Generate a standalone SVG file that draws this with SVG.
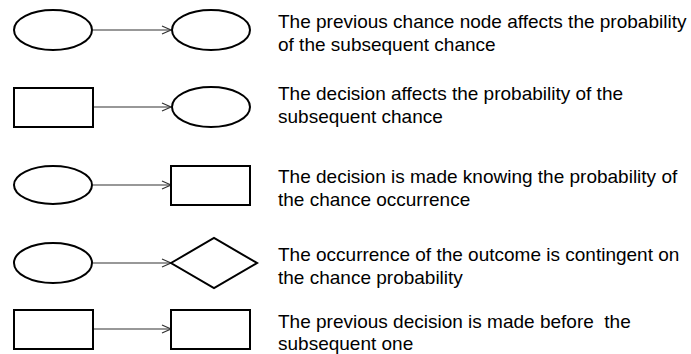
<svg xmlns="http://www.w3.org/2000/svg" width="691" height="354" viewBox="0 0 691 354">
<style>
.n{fill:#fff;stroke:#000;stroke-width:2}
.c{stroke:#333;stroke-width:1.2;fill:none}
text{font-family:"Liberation Sans",Arial,sans-serif;font-size:19px;fill:#000;white-space:pre}
</style>
<defs>
<marker id="a" markerWidth="12" markerHeight="10" refX="10" refY="5" orient="auto" markerUnits="userSpaceOnUse">
<path d="M1,1 L10,5 L1,9" fill="none" stroke="#333" stroke-width="1.2"/>
</marker>
</defs>
<rect width="691" height="354" fill="#fff"/>
<g id="connectors">
<line class="c" x1="93" y1="30" x2="171" y2="30" marker-end="url(#a)"/>
<line class="c" x1="93" y1="107" x2="171" y2="107" marker-end="url(#a)"/>
<line class="c" x1="93" y1="185" x2="171" y2="185" marker-end="url(#a)"/>
<line class="c" x1="93" y1="263" x2="171" y2="263" marker-end="url(#a)"/>
<line class="c" x1="93" y1="329" x2="171" y2="329" marker-end="url(#a)"/>
</g>
<g id="r1a"><ellipse class="n" cx="53" cy="30" rx="39" ry="20"/></g>
<g id="r1b"><ellipse class="n" cx="211" cy="30" rx="39" ry="20"/></g>
<g id="r2a"><rect class="n" x="14" y="88" width="79" height="39"/></g>
<g id="r2b"><ellipse class="n" cx="211" cy="107" rx="39" ry="20"/></g>
<g id="r3a"><ellipse class="n" cx="53" cy="185" rx="39" ry="19"/></g>
<g id="r3b"><rect class="n" x="171" y="166" width="79" height="39"/></g>
<g id="r4a"><ellipse class="n" cx="53" cy="263" rx="39" ry="20"/></g>
<g id="r4b"><polygon class="n" points="171,263 214,238 257,263 214,288"/></g>
<g id="r5a"><rect class="n" x="14" y="310" width="79" height="39"/></g>
<g id="r5b"><rect class="n" x="171" y="310" width="79" height="39"/></g>
<g id="labels">
<text x="278" y="28">The previous chance node affects the probability</text>
<text x="278" y="51">of the subsequent chance</text>
<text x="278" y="100">The decision affects the probability of the</text>
<text x="278" y="123">subsequent chance</text>
<text x="278" y="183">The decision is made knowing the probability of</text>
<text x="278" y="206">the chance occurrence</text>
<text x="278" y="261">The occurrence of the outcome is contingent on</text>
<text x="278" y="284">the chance probability</text>
<text x="278" y="328">The previous decision is made before  the</text>
<text x="278" y="350">subsequent one</text>
</g>
</svg>
